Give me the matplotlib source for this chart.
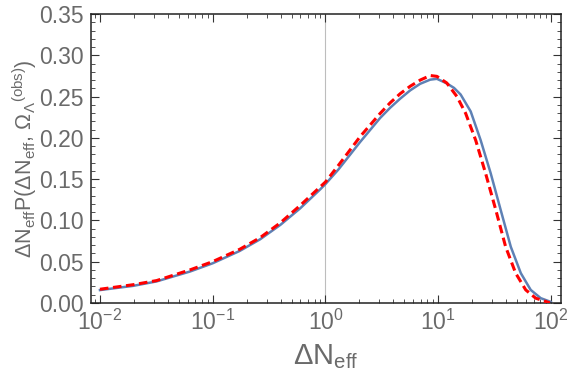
import matplotlib
matplotlib.use("Agg")
import matplotlib.pyplot as plt
from matplotlib.ticker import LogLocator, MultipleLocator, NullFormatter, FixedLocator, FixedFormatter

plt.rcParams['font.family'] = ['Liberation Sans', 'DejaVu Sans']
plt.rcParams['mathtext.fontset'] = 'custom'
plt.rcParams['mathtext.rm'] = 'Liberation Sans'
plt.rcParams['mathtext.it'] = 'Liberation Sans'
plt.rcParams['mathtext.bf'] = 'Liberation Sans:bold'
plt.rcParams['mathtext.sf'] = 'Liberation Sans'

# Data
blue_x = [0.01, 0.0197, 0.0318, 0.063, 0.1, 0.116, 0.174, 0.263, 0.398, 0.596, 0.897, 1.0,
          1.30, 2.03, 3.05, 3.75, 4.60, 5.64, 6.92, 8.49, 9.73, 11.9, 13.8, 15.8, 19.4,
          23.8, 29.2, 35.8, 44.0, 54.0, 66.1, 81.1, 99.5]
blue_y = [0.0155, 0.0206, 0.026, 0.038, 0.048, 0.052, 0.063, 0.077, 0.0945, 0.1145, 0.1375, 0.144,
          0.1615, 0.195, 0.224, 0.2365, 0.2475, 0.2575, 0.2655, 0.2705, 0.2715, 0.266, 0.2605, 0.2525,
          0.232, 0.197, 0.157, 0.1126, 0.068, 0.036, 0.0157, 0.0057, 0.0012]

red_x = [0.01, 0.0197, 0.0318, 0.063, 0.1, 0.174, 0.263, 0.398, 0.596, 0.897, 1.0,
         1.30, 2.03, 3.05, 3.75, 4.60, 5.64, 6.92, 8.49, 9.73, 11.9, 14.66, 17.5,
         21.5, 26.3, 32.4, 39.6, 48.6, 59.7, 73.1, 92.9, 97.7]
red_y = [0.0165, 0.022, 0.027, 0.040, 0.050, 0.065, 0.079, 0.097, 0.118, 0.1405, 0.1465,
         0.1665, 0.2015, 0.2295, 0.2425, 0.2535, 0.2625, 0.270, 0.2755, 0.2745, 0.2665, 0.250, 0.2297,
         0.197, 0.157, 0.1126, 0.068, 0.036, 0.0157, 0.0057, 0.001, 0.0]

y_ticks = [0.00, 0.05, 0.10, 0.15, 0.20, 0.25, 0.30, 0.35]
y_ticklabels = ["0.00", "0.05", "0.10", "0.15", "0.20", "0.25", "0.30", "0.35"]
x_ticks = [0.01, 0.1, 1, 10, 100]
x_ticklabels = [r"$10^{-2}$", r"$10^{-1}$", r"$10^{0}$", r"$10^{1}$", r"$10^{2}$"]

fig = plt.figure(figsize=(5.72, 3.80), dpi=100)
ax = fig.add_axes([0.159, 0.203, 0.822, 0.760])

ax.axvline(1.0, color='#bdbdbd', lw=0.8, zorder=1)
ax.plot(blue_x, blue_y, color='#5E81B5', lw=1.8, zorder=2, solid_joinstyle='round')
ax.plot(red_x, red_y, color='#FF0000', lw=2.2, ls=(0, (2.8, 1.5)), zorder=3)

ax.set_xscale('log')
ax.set_xlim(10**-2.08, 10**2.09)
ax.set_ylim(0, 0.35)

ax.xaxis.set_major_locator(FixedLocator(x_ticks))
ax.xaxis.set_major_formatter(FixedFormatter(x_ticklabels))
ax.xaxis.set_minor_locator(LogLocator(base=10, subs=range(2, 10), numticks=20))
ax.xaxis.set_minor_formatter(NullFormatter())
ax.yaxis.set_major_locator(FixedLocator(y_ticks))
ax.yaxis.set_major_formatter(FixedFormatter(y_ticklabels))
ax.yaxis.set_minor_locator(MultipleLocator(0.01))

gray = '#6a6a6a'
ax.tick_params(which='both', direction='in', top=True, right=True, labelcolor=gray,
               labelsize=16.5, color='#333333')
ax.tick_params(which='major', length=6, width=0.8)
ax.tick_params(which='minor', length=3, width=0.6)
ax.tick_params(axis='x', pad=5)
ax.tick_params(axis='y', pad=5)

for s in ax.spines.values():
    s.set_linewidth(1.1)
    s.set_color('#222222')

ax.set_xlabel(r"$\Delta \mathrm{N}_{\mathrm{eff}}$", fontsize=21, color=gray, labelpad=5)
ax.set_ylabel(r"$\Delta \mathrm{N}_{\mathrm{eff}}\mathrm{P}(\Delta \mathrm{N}_{\mathrm{eff}},\,\Omega_{\Lambda}{}^{(\mathrm{obs})})$",
              fontsize=15.5, color=gray, labelpad=0)

fig.savefig("out.png", dpi=100)
